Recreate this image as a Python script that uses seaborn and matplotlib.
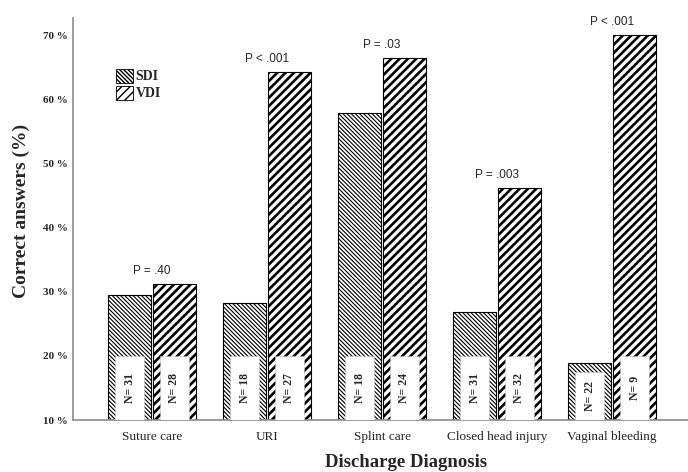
import matplotlib
matplotlib.use("Agg")
import matplotlib.pyplot as plt
import seaborn as sns
import pandas as pd
from matplotlib.patches import Patch, Rectangle

categories = ["Suture care", "URI", "Splint care", "Closed head injury", "Vaginal bleeding"]
groups = ["SDI", "VDI"]
sdi_values = [29.5, 28.3, 58.0, 26.8, 18.9]
vdi_values = [31.2, 64.3, 66.6, 46.3, 70.2]
sdi_n = ["N= 31", "N= 18", "N= 18", "N= 31", "N= 22"]
vdi_n = ["N= 28", "N= 27", "N= 24", "N= 32", "N= 9"]
p_labels = ["P = .40", "P < .001", "P = .03", "P = .003", "P < .001"]
y_ticks = [10, 20, 30, 40, 50, 60, 70]

df = pd.DataFrame({
    "diag": categories * 2,
    "pct": sdi_values + vdi_values,
    "group": ["SDI"] * len(categories) + ["VDI"] * len(categories),
})

sns.set_style("white")
plt.rcParams["font.family"] = ["Liberation Serif", "DejaVu Serif"]

fig = plt.figure(figsize=(6.88, 4.72), dpi=100)
ax = fig.add_axes([73 / 688, 52 / 472, 615 / 688, 402 / 472])

sns.barplot(data=df, x="diag", y="pct", hue="group", order=categories,
            hue_order=groups, palette=["white", "white"], edgecolor="black",
            linewidth=0.8, width=0.78, gap=0.04, legend=False, ax=ax,
            errorbar=None)

hatch_cfg = {"SDI": ("\\\\\\\\\\\\\\\\", 0.8), "VDI": ("////", 1.9)}
bars = [p for p in ax.patches if isinstance(p, Rectangle)]
n_cat = len(categories)
for i, bar in enumerate(bars[:2 * n_cat]):
    g = groups[i // n_cat]
    h, lw = hatch_cfg[g]
    bar.set_hatch(h)
    if hasattr(bar, "set_hatch_linewidth"):
        bar.set_hatch_linewidth(lw)

# white inner boxes with N labels
for i, bar in enumerate(bars[:2 * n_cat]):
    g = i // n_cat
    c = i % n_cat
    val = (sdi_values if g == 0 else vdi_values)[c]
    label = (sdi_n if g == 0 else vdi_n)[c]
    x0 = bar.get_x()
    w = bar.get_width()
    inset = w * 0.16
    top = min(20.0, val - 1.4)
    box = Rectangle((x0 + inset, 10), w - 2 * inset, top - 10,
                    facecolor="white", edgecolor="#bbbbbb", linewidth=0.6,
                    linestyle=(0, (1, 1)), zorder=3)
    ax.add_patch(box)
    ax.text(x0 + w / 2, 10 + (top - 10) / 2, label, rotation=90,
            ha="center", va="center", fontsize=8.5, fontweight="bold",
            zorder=4)

# p-value labels
for c in range(n_cat):
    top = max(sdi_values[c], vdi_values[c])
    ax.annotate(p_labels[c], xy=(c, top), xytext=(0, 5),
                textcoords="offset points", ha="center", va="bottom",
                fontsize=8.5, family=["Liberation Sans", "DejaVu Sans"])

ax.set_ylim(10, 72.8)
ax.set_xlim(-0.687, 4.66)
ax.set_yticks(y_ticks)
ax.set_yticklabels([f"{v} %" for v in y_ticks], fontsize=8, fontweight="bold")
ax.tick_params(axis="both", length=0)
ax.tick_params(axis="y", pad=4)
ax.tick_params(axis="x", pad=8, labelsize=9.5)

for s in ["top", "right"]:
    ax.spines[s].set_visible(False)
for s in ["left", "bottom"]:
    ax.spines[s].set_color("#8c8c8c")
    ax.spines[s].set_linewidth(1.2)

ax.set_ylabel("Correct answers (%)", fontsize=14, fontweight="bold")
ax.yaxis.set_label_coords(-0.07, 0.52)
ax.set_xlabel("Discharge Diagnosis", fontsize=13.5, fontweight="bold")
ax.xaxis.set_label_coords(0.541, -0.085)

handles = []
for g in groups:
    h, lw = hatch_cfg[g]
    p = Patch(facecolor="white", edgecolor="black", hatch=h, linewidth=0.6)
    if hasattr(p, "set_hatch_linewidth"):
        p.set_hatch_linewidth(lw)
    handles.append(p)
ax.legend(handles, groups, loc="upper left", bbox_to_anchor=(0.05, 0.905),
          frameon=False, handlelength=1.2, handleheight=1.2, handletextpad=0.2,
          labelspacing=0.15, prop={"weight": "bold", "size": 10,
                                   "family": ["Liberation Serif"]})

fig.savefig("out.png", dpi=100)
